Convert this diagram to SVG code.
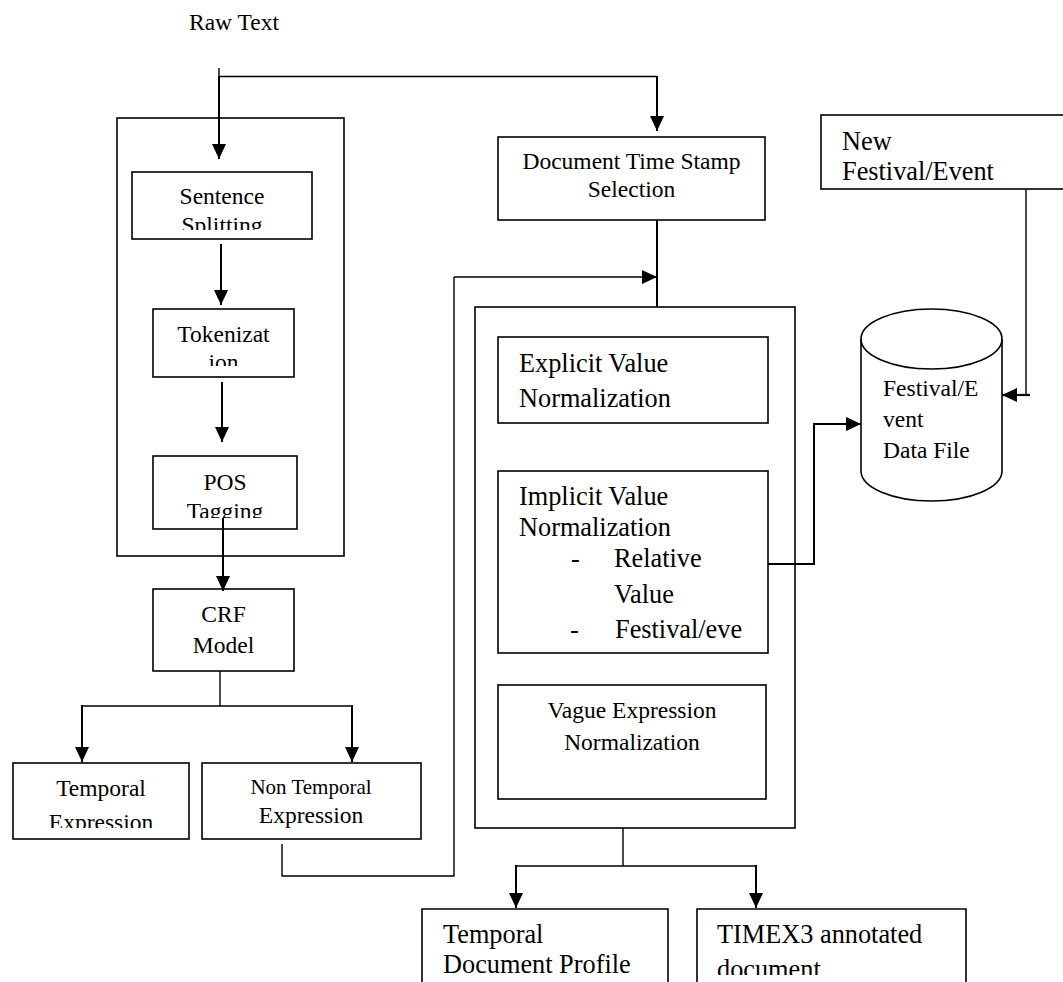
<svg xmlns="http://www.w3.org/2000/svg" width="1063" height="982" viewBox="0 0 1063 982">
<style>
.box{fill:#fff;stroke:#000;stroke-width:1.6}
.ln{fill:none;stroke:#000;stroke-width:1.4}
.ar{fill:none;stroke:#000;stroke-width:2;marker-end:url(#ah)}
.t{font-family:"Liberation Serif","Times New Roman",serif;fill:#000}
.c{text-anchor:middle}
.s23{font-size:23.5px}
.s21{font-size:21px}
.s26{font-size:26.3px}
</style>
<defs>
<marker id="ah" viewBox="0 0 15 14" refX="15" refY="7" markerWidth="15" markerHeight="14" markerUnits="userSpaceOnUse" orient="auto">
<path d="M0,0 L15,7 L0,14 Z" fill="#000"/>
</marker>
<clipPath id="cpS"><rect x="132" y="172" width="180" height="58"/></clipPath>
<clipPath id="cpT"><rect x="153" y="309" width="141" height="57"/></clipPath>
<clipPath id="cpP"><rect x="153" y="456" width="144" height="62"/></clipPath>
<clipPath id="cpE"><rect x="13" y="763" width="176" height="65"/></clipPath>
<clipPath id="cpX"><rect x="697" y="909" width="269" height="66"/></clipPath>
</defs>
<rect width="1063" height="982" fill="#fff"/>

<g id="raw-text"><text class="t s23" x="189" y="30">Raw Text</text></g>

<g id="preprocessing">
<rect class="box" x="117" y="118" width="227" height="438"/>
</g>
<g id="sentence-splitting">
<rect class="box" x="132" y="172" width="180" height="67"/>
<g clip-path="url(#cpS)"><text class="t s23 c" x="222" y="204">Sentence</text><text class="t s23 c" x="222" y="233">Splitting</text></g>
</g>
<g id="tokenization">
<rect class="box" x="153" y="309" width="141" height="68"/>
<g clip-path="url(#cpT)"><text class="t s23 c" x="223.5" y="342">Tokenizat</text><text class="t s23 c" x="223.5" y="370">ion</text></g>
</g>
<g id="pos-tagging">
<rect class="box" x="153" y="456" width="144" height="73"/>
<g clip-path="url(#cpP)"><text class="t s23 c" x="225" y="490">POS</text><text class="t s23 c" x="225" y="519">Tagging</text></g>
</g>
<g id="crf-model">
<rect class="box" x="153" y="589" width="141" height="82"/>
<text class="t s23 c" x="223.5" y="622">CRF</text><text class="t s23 c" x="223.5" y="653">Model</text>
</g>
<g id="temporal-expression">
<rect class="box" x="13" y="763" width="176" height="76"/>
<g clip-path="url(#cpE)"><text class="t s23 c" x="101" y="796">Temporal</text><text class="t s23 c" x="101" y="830">Expression</text></g>
</g>
<g id="non-temporal-expression">
<rect class="box" x="202" y="763" width="219" height="76"/>
<text class="t s21 c" x="311" y="794">Non Temporal</text><text class="t s23 c" x="311" y="823">Expression</text>
</g>

<g id="document-time-stamp">
<rect class="box" x="498" y="137" width="267" height="83"/>
<text class="t s23 c" x="631.5" y="169">Document Time Stamp</text><text class="t s23 c" x="631.5" y="197">Selection</text>
</g>
<g id="normalization">
<rect class="box" x="475" y="307" width="320" height="521"/>
</g>
<g id="explicit">
<rect class="box" x="498" y="337" width="270" height="86"/>
<text class="t s26" x="519" y="372">Explicit Value</text><text class="t s26" x="519" y="407">Normalization</text>
</g>
<g id="implicit">
<rect class="box" x="498" y="471" width="270" height="182"/>
<text class="t s26" x="519" y="505">Implicit Value</text><text class="t s26" x="519" y="536">Normalization</text>
<text class="t s26" x="571" y="567">-</text><text class="t s26" x="614" y="567">Relative</text>
<text class="t s26" x="614" y="603">Value</text>
<text class="t s26" x="570" y="638">-</text><text class="t s26" x="615" y="638">Festival/eve</text>
</g>
<g id="vague">
<rect class="box" x="498" y="685" width="268" height="114"/>
<text class="t s23 c" x="632" y="718">Vague Expression</text><text class="t s23 c" x="632" y="750">Normalization</text>
</g>

<g id="new-festival">
<rect class="box" x="821" y="115" width="250" height="74"/>
<text class="t s26" x="842" y="150">New</text><text class="t s26" x="842" y="180">Festival/Event</text>
</g>
<g id="festival-data-file">
<path class="box" d="M861,339 V471 A70.5,30 0 0 0 1002,471 V339 A70.5,30 0 0 0 861,339 Z"/>
<path class="ln" style="stroke-width:1.6" d="M861,339 A70.5,30 0 0 0 1002,339"/>
<text class="t s23" x="883" y="396">Festival/E</text><text class="t s23" x="883" y="427">vent</text><text class="t s23" x="883" y="458">Data File</text>
</g>

<g id="temporal-document-profile">
<path class="box" d="M422,985 V909 H668 V985"/>
<text class="t s26" x="443" y="943">Temporal</text><text class="t s26" x="443" y="973">Document Profile</text>
</g>
<g id="timex3">
<path class="box" d="M697,985 V909 H966 V985"/>
<g clip-path="url(#cpX)"><text class="t s26" x="717" y="943">TIMEX3 annotated</text><text class="t s26" x="717" y="978">document</text></g>
</g>

<g id="connectors">
<path class="ln" d="M219,68 V78"/>
<path class="ar" d="M219,76 V159"/>
<path class="ln" d="M219,76.5 H657"/>
<path class="ar" d="M657,76 V131"/>
<path class="ar" d="M221,244 V305"/>
<path class="ar" d="M222,382 V442"/>
<path class="ar" d="M223,518 V591"/>
<path class="ln" d="M220,671 V706 M82,706 H352"/>
<path class="ar" d="M82,705 V762"/>
<path class="ar" d="M352,705 V762"/>
<path class="ln" d="M282,844 V876 H454 V277"/>
<path class="ar" style="stroke-width:1.6" d="M454,277 H657"/>
<path class="ln" style="stroke-width:2" d="M657,220 V307"/>
<path class="ln" d="M623,828 V866 M516,866 H756"/>
<path class="ar" d="M516,865 V908"/>
<path class="ar" d="M756,865 V908"/>
<path class="ln" style="stroke-width:2" d="M768,564 H814 V424"/>
<path class="ar" d="M813,424 H861"/>
<path class="ln" d="M1026,189 V395"/>
<path class="ar" style="stroke-width:2.2" d="M1030,395 H1002"/>
</g>
</svg>
